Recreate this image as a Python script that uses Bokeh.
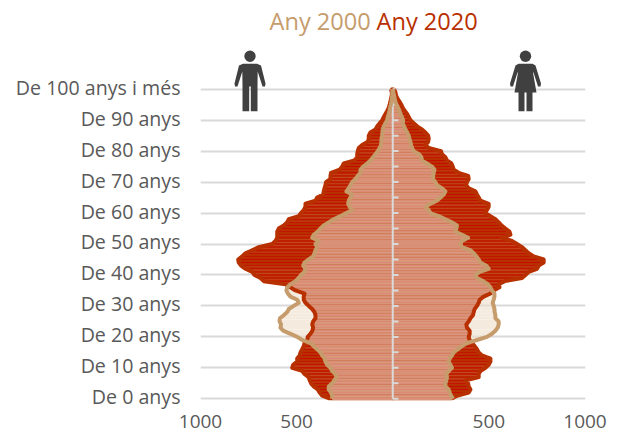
from bokeh.plotting import figure
from bokeh.models import Range1d, FixedTicker, Label, LinearAxis
from bokeh.embed import file_html
from bokeh.resources import INLINE

ages = list(range(101))
men_2020 = [324,367,380,390,411,425,432,438,459,471,523,518,497,497,484,480,471,463,459,445,
            442,428,418,414,419,414,402,402,407,419,437,454,463,463,459,506,532,558,671,688,
            719,731,766,789,801,804,783,766,731,697,627,610,601,601,601,593,567,549,541,489,
            477,463,454,454,402,393,362,359,355,350,347,324,324,321,276,263,255,199,185,185,
            182,177,159,130,125,125,116,90,81,68,55,47,38,29,21,16,12,9,5,5,9]
men_2000 = [315,315,321,333,333,315,303,293,298,315,324,341,350,354,367,376,393,411,428,471,
            497,532,570,584,581,589,587,567,549,541,515,489,497,532,546,553,549,532,506,489,
            477,459,454,466,459,437,414,407,402,393,402,385,419,411,390,376,359,333,307,272,
            241,211,224,232,229,220,211,241,229,220,211,194,182,168,168,154,133,116,102,90,
            78,68,61,59,59,55,54,52,47,38,29,26,21,17,14,10,7,5,3,2,2]
women_2020 = [305,334,395,404,395,392,381,447,447,456,482,499,508,508,464,447,438,426,412,400,
              395,400,400,386,383,395,404,417,421,426,438,447,452,473,508,525,555,551,582,672,
              690,707,750,759,785,785,733,707,690,672,646,620,568,612,607,586,565,551,534,508,
              482,490,499,499,456,447,438,430,395,381,386,395,392,343,317,312,305,282,274,256,
              251,187,170,184,187,184,170,152,127,109,92,83,75,62,52,45,35,24,17,14,7]
women_2000 = [314,303,296,291,274,274,279,282,279,291,308,300,291,296,308,317,338,360,386,438,
              490,516,534,546,551,551,534,534,530,529,525,520,525,529,529,516,508,494,470,438,
              430,452,499,487,456,447,435,421,404,360,352,360,392,360,326,331,334,308,274,239,
              196,187,170,196,230,248,265,274,256,230,222,210,210,213,217,204,178,152,149,137,
              109,101,95,92,87,83,75,66,59,52,54,48,40,35,28,19,14,10,7,3,2]
x_ticks = [-1000, -500, 500, 1000]
x_tick_labels = ["1000", "500", "500", "1000"]
age_ticks = list(range(0, 101, 10))
age_labels = ["De 0 anys", "De 10 anys", "De 20 anys", "De 30 anys", "De 40 anys", "De 50 anys",
              "De 60 anys", "De 70 anys", "De 80 anys", "De 90 anys", "De 100 anys i més"]
center_ticks = list(range(0, 101, 5))

RED, TAN, GREY = "#b93000", "#c69c6d", "#404040"
FONT = "Open Sans"

W, H = 620, 436
L, R, T, B = 200, 35, 0, 36
p = figure(width=W, height=H, output_backend="svg", toolbar_location=None,
           x_range=Range1d(-1000.0, 1002.6), y_range=Range1d(-0.549, 128.65),
           min_border_left=L, min_border_right=R, min_border_top=T, min_border_bottom=B,
           background_fill_color="white", border_fill_color="white", outline_line_color=None)

def fx(px):
    return (px - 200) / 0.19225 - 1000.0
def fy(py):
    return (398.3 - py) / 3.096

neg = lambda a: [-v for v in a]

p.hbar(y=ages, left=neg(men_2020), right=0, height=0.7, fill_color="#c40c00", line_color=RED, line_width=1.2)
p.hbar(y=ages, left=0, right=women_2020, height=0.7, fill_color="#c40c00", line_color=RED, line_width=1.2)
p.hbar(y=ages, left=neg(men_2000), right=0, height=0.96, fill_color="#ecdcc8", fill_alpha=0.6, line_color=None)
p.hbar(y=ages, left=0, right=women_2000, height=0.96, fill_color="#ecdcc8", fill_alpha=0.6, line_color=None)

p.segment(x0=[0], x1=[0], y0=[0], y1=[100], line_color="#d9d9d9", line_width=2)
p.segment(x0=[0]*len(center_ticks), x1=[30]*len(center_ticks), y0=center_ticks, y1=center_ticks,
          line_color="#d9d9d9", line_width=2)

p.line(neg(men_2020), ages, line_color=RED, line_width=4, line_join="round")
p.line(women_2020, ages, line_color=RED, line_width=4, line_join="round")
p.line(neg(men_2000), ages, line_color=TAN, line_width=4, line_join="round")
p.line(women_2000, ages, line_color=TAN, line_width=4, line_join="round")

def poly(pts):
    return [fx(a) for a, _ in pts], [fy(b) for _, b in pts]

def person(cx, female):
    p.ellipse(x=[fx(cx)], y=[fy(55.8)], width=[11.4/0.19225], height=[11.4/3.096], fill_color=GREY, line_color=None)
    if female:
        body = [(-7,63.3),(7,63.3),(10,65),(15.5,83),(15,86),(12.5,86),(8,72),(7.5,72),(11,92),(7,92),
                (7,110.7),(1,110.7),(1,92),(-1,92),(-1,110.7),(-7,110.7),(-7,92),(-11,92),(-7.5,72),(-8,72),
                (-12.5,86),(-15,86),(-15.5,83),(-10,65)]
    else:
        body = [(-7,63.3),(7,63.3),(11,65),(15.5,83),(15,86),(12.5,86),(7.7,71),(7.5,86),(7.5,110.7),(0.8,110.7),
                (0.8,86),(-0.8,86),(-0.8,110.7),(-7.5,110.7),(-7.5,86),(-7.7,71),(-12.5,86),(-15,86),(-15.5,83),(-11,65)]
    xs, ys = poly([(cx + a, b) for a, b in body])
    p.patch(xs, ys, fill_color=GREY, line_color=None)

person(249.5, False)
person(525, True)

for txt, px, col in [("Any 2000", 269, "#c69c6d"), ("Any 2020", 376, RED)]:
    p.add_layout(Label(x=fx(px), y=fy(20.5), text=txt, text_color=col, text_font=FONT,
                       text_font_size="23.6px", text_baseline="middle", text_align="left"))

p.xaxis.ticker = FixedTicker(ticks=x_ticks)
p.xaxis.major_label_overrides = dict(zip(x_ticks, x_tick_labels))
p.yaxis[0].visible = False

p.extra_y_ranges = {"labels": Range1d(-0.549 - 0.65, 128.65 - 0.65)}
yax = LinearAxis(y_range_name="labels", ticker=FixedTicker(ticks=age_ticks),
                 major_label_overrides=dict(zip(age_ticks, age_labels)))
p.add_layout(yax, "left")

for ax, size in ((p.xaxis[0], "19px"), (yax, "19.6px")):
    ax.axis_line_color = None
    ax.major_tick_line_color = None
    ax.minor_tick_line_color = None
    ax.major_tick_in = 0
    ax.major_tick_out = 0
    ax.major_label_text_color = "#595959"
    ax.major_label_text_font = FONT
    ax.major_label_text_font_size = size
p.xaxis.major_label_standoff = 14
yax.major_label_standoff = 20

p.xgrid.visible = False
p.ygrid.ticker = FixedTicker(ticks=age_ticks)
p.ygrid.grid_line_color = "#d9d9d9"
p.ygrid.grid_line_width = 2

open("out.html", "w").write(file_html(p, INLINE))
